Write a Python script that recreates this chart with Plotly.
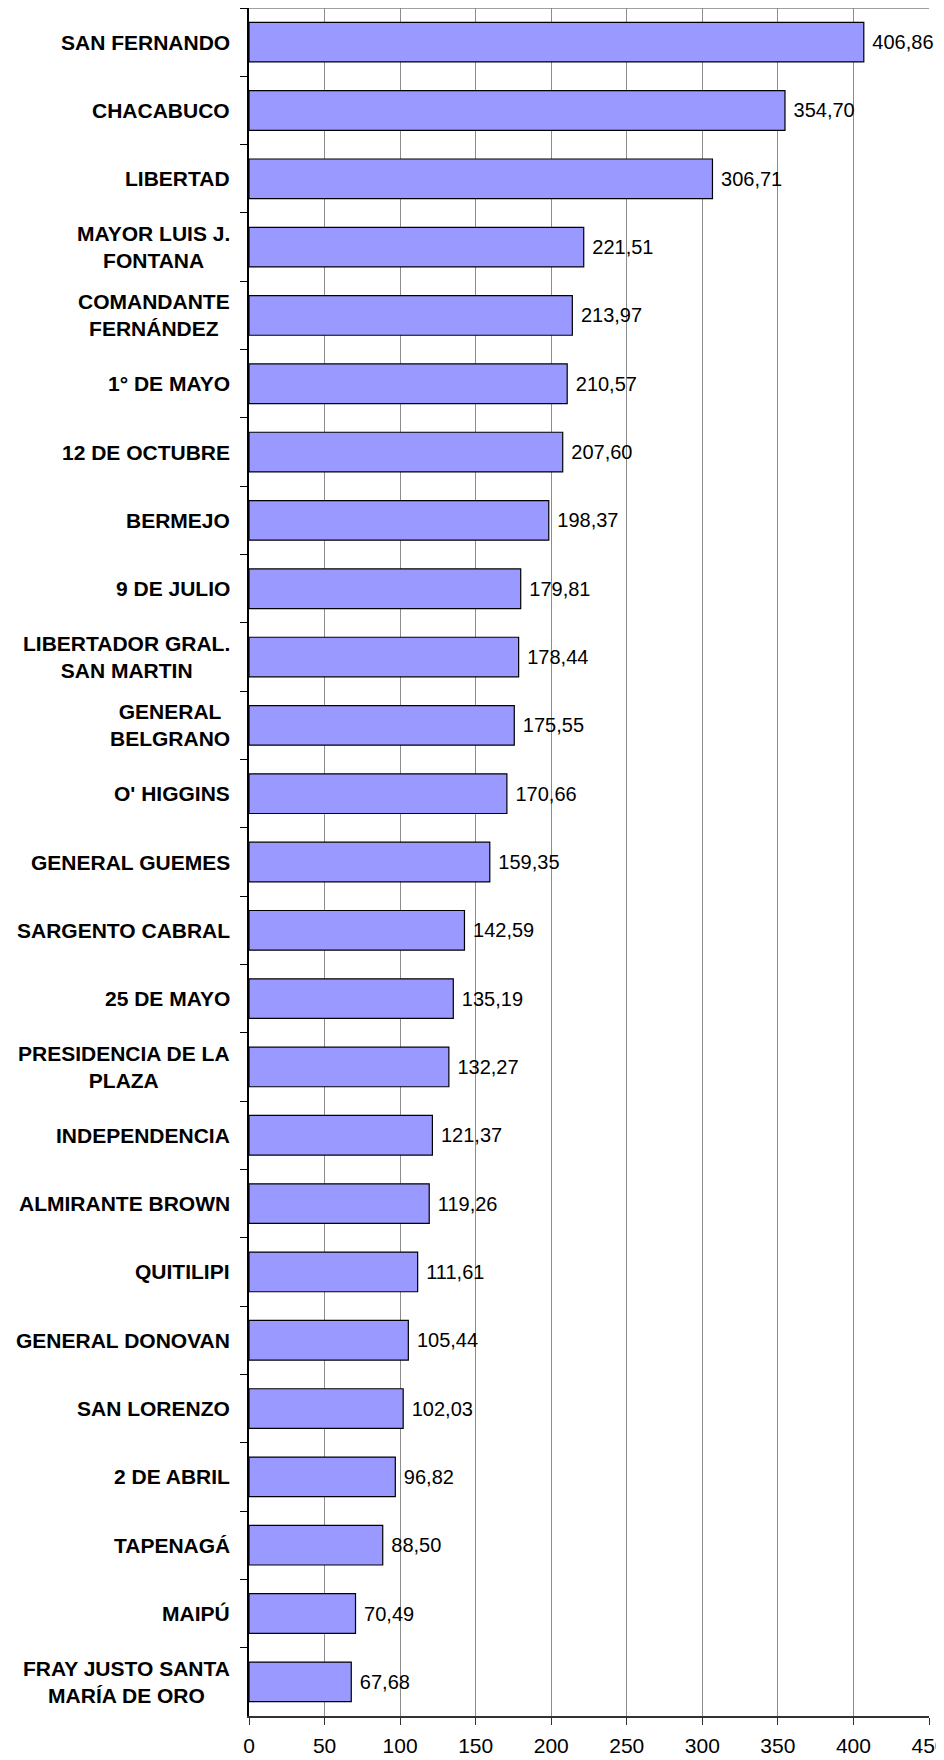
import plotly.graph_objects as go

categories = [
    "SAN FERNANDO", "CHACABUCO", "LIBERTAD", "MAYOR LUIS J.<br>FONTANA",
    "COMANDANTE<br>FERNÁNDEZ", "1° DE MAYO", "12 DE OCTUBRE", "BERMEJO",
    "9 DE JULIO", "LIBERTADOR GRAL.<br>SAN MARTIN", "GENERAL<br>BELGRANO",
    "O' HIGGINS", "GENERAL GUEMES", "SARGENTO CABRAL", "25 DE MAYO",
    "PRESIDENCIA DE LA<br>PLAZA", "INDEPENDENCIA", "ALMIRANTE BROWN",
    "QUITILIPI", "GENERAL DONOVAN", "SAN LORENZO", "2 DE ABRIL",
    "TAPENAGÁ", "MAIPÚ", "FRAY JUSTO SANTA<br>MARÍA DE ORO",
]
values = [
    406.86, 354.70, 306.71, 221.51, 213.97, 210.57, 207.60, 198.37,
    179.81, 178.44, 175.55, 170.66, 159.35, 142.59, 135.19, 132.27,
    121.37, 119.26, 111.61, 105.44, 102.03, 96.82, 88.50, 70.49, 67.68,
]
x_ticks = [0, 50, 100, 150, 200, 250, 300, 350, 400, 450]

labels = [f"{v:.2f}".replace(".", ",") for v in values]
FONT = "Arial, 'Liberation Sans', sans-serif"

fig = go.Figure()
fig.add_trace(go.Bar(
    y=categories, x=values, orientation="h",
    marker=dict(color="#9999FF", line=dict(color="#000000", width=1.2)),
    width=0.58,
    text=labels, texttemplate=" %{text}", textposition="outside",
    constraintext="none",
    textfont=dict(family=FONT, size=20, color="#000000"),
    cliponaxis=False, hoverinfo="skip",
))

for c in categories:
    fig.add_annotation(
        x=0, xref="paper", y=c, yref="y", text=f"<b>{c}</b>",
        showarrow=False, xanchor="right", yanchor="middle", xshift=-17,
        align="center", font=dict(family=FONT, size=21, color="#000000"),
    )

# top border of plot area
fig.add_shape(type="line", xref="paper", yref="paper", x0=0, x1=1, y0=1, y1=1,
              line=dict(color="#808080", width=1.5))

# the page body adds an 8px offset, so the figure is sized to fill the window
fig.update_layout(
    width=936, height=1752,
    margin=dict(l=241, r=15, t=0, b=44, autoexpand=False),
    paper_bgcolor="white", plot_bgcolor="white",
    showlegend=False, bargap=0.42,
    xaxis=dict(
        range=[0, 450], tickvals=x_ticks, ticktext=[str(t) for t in x_ticks],
        showgrid=True, gridcolor="#8c8c8c", gridwidth=1,
        showline=True, linecolor="#333333", linewidth=2,
        ticks="outside", ticklen=7, tickcolor="#333333", tickwidth=1,
        tickfont=dict(family=FONT, size=21, color="#000000"),
        ticklabelstandoff=3, ticklabeloverflow="allow",
        zeroline=False, fixedrange=True, automargin=False,
    ),
    yaxis=dict(
        type="category", categoryorder="array", categoryarray=categories,
        autorange="reversed", tickson="boundaries",
        showticklabels=False, showgrid=False,
        showline=True, linecolor="#000000", linewidth=1.5,
        ticks="outside", ticklen=7, tickcolor="#000000", tickwidth=1,
        fixedrange=True, automargin=False,
    ),
)

fig.write_html("out.html")
